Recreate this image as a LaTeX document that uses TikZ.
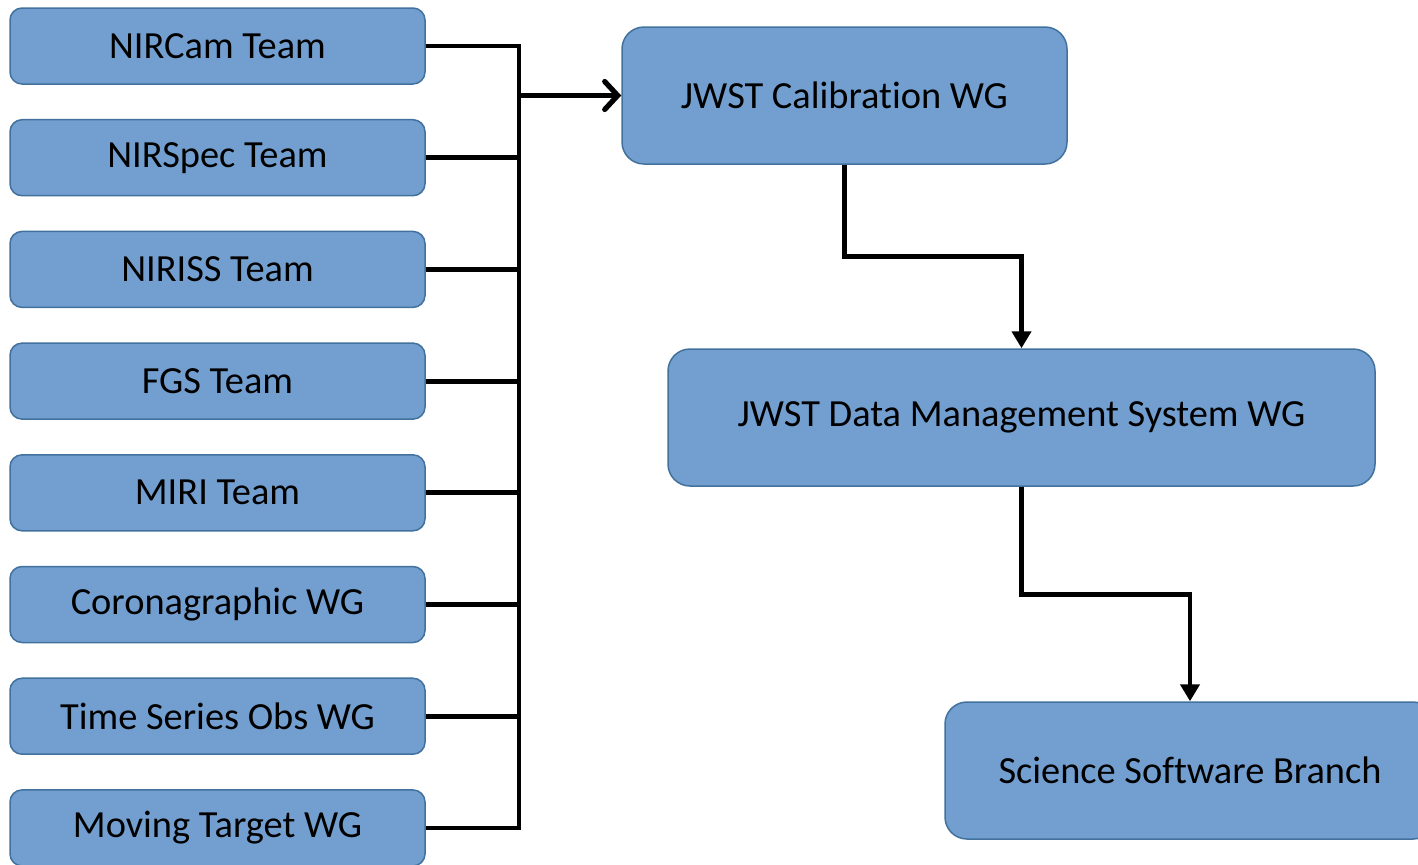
\documentclass[tikz,border=0pt]{standalone}
\usepackage{fontspec}
\setmainfont{Carlito}[Ligatures={NoCommon}]
\usetikzlibrary{positioning,arrows.meta}
\definecolor{boxfill}{RGB}{114,159,207}
\definecolor{boxline}{RGB}{65,113,156}

\begin{document}
\begin{tikzpicture}[x=0.5pt, y=-0.5pt,
    every node/.style = {align=center, font=\fontsize{19.2}{23}\selectfont},
    team/.style = {draw=boxline, fill=boxfill, line width=0.75pt, rounded corners=6pt,
                   minimum width=207.5pt, minimum height=38pt, inner sep=0pt},
    wg/.style = {draw=boxline, fill=boxfill, line width=0.75pt, rounded corners=11pt,
                 minimum height=68.5pt, inner sep=0pt},
    link/.style = {line width=2.4pt, line join=miter}]
    \useasboundingbox (0,0) rectangle (1418,864);

    % instrument teams and working groups
    \node[team] (nircam) at (217.5,46) {NIRCam Team};
    \node[team, below=17.1pt of nircam] (nirspec) {NIRSpec Team};
    \node[team, below=17.1pt of nirspec] (niriss) {NIRISS Team};
    \node[team, below=17.1pt of niriss] (fgs) {FGS Team};
    \node[team, below=17.1pt of fgs] (miri) {MIRI Team};
    \node[team, below=17.1pt of miri] (corona) {Coronagraphic WG};
    \node[team, below=17.1pt of corona] (tso) {Time Series Obs WG};
    \node[team, below=17.1pt of tso] (moving) {Moving Target WG};

    \node[wg, minimum width=222.5pt] (calib) at (844.5,95.5) {JWST Calibration WG};
    \node[wg, minimum width=353.5pt] (dms) at (1021.5,417.5) {JWST Data Management System WG};
    \node[wg, minimum width=245pt] (ssb) at (1190,770.5) {Science Software Branch};

    \coordinate (bus) at (519,0);

    % collecting bus
    \draw[link] (nircam.east) -| (bus |- moving.east) -- (moving.east);
    \draw[link] (nirspec.east) -- (nirspec.east -| bus);
    \draw[link] (niriss.east) -- (niriss.east -| bus);
    \draw[link] (fgs.east) -- (fgs.east -| bus);
    \draw[link] (miri.east) -- (miri.east -| bus);
    \draw[link] (corona.east) -- (corona.east -| bus);
    \draw[link] (tso.east) -- (tso.east -| bus);
    \draw[link, line width=2.6pt, -{Straight Barb[length=6.5pt, width=14pt, line cap=round]}]
        (bus |- calib.west) -- (calib.west);

    % down the chain
    \draw[link, -{Triangle[length=8.5pt, width=9.5pt]}] (calib.south) -- ++(0,92) -| (dms.north);
    \draw[link, -{Triangle[length=8.5pt, width=9.5pt]}] (dms.south) -- ++(0,108) -| (ssb.north);
\end{tikzpicture}
\end{document}
